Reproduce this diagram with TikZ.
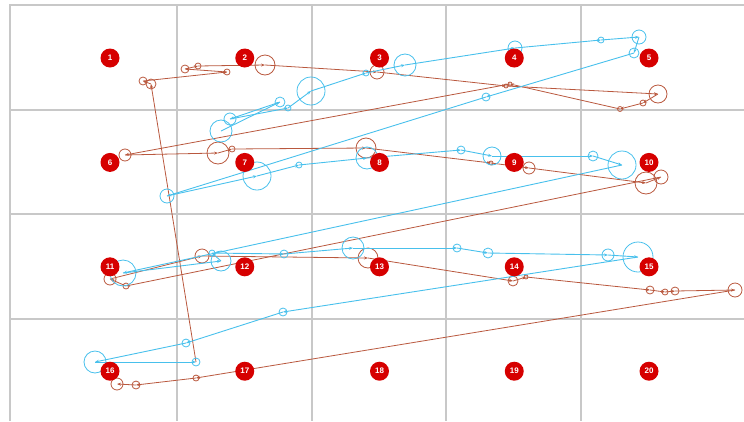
\documentclass[tikz,border=0pt]{standalone}
\usepackage{fontspec}
\newfontfamily\badgefont{Liberation Sans}
\usetikzlibrary{arrows.meta}
\definecolor{gridgray}{RGB}{200,200,200}
\definecolor{badgered}{RGB}{214,0,0}
\definecolor{rustline}{RGB}{185,88,62}
\definecolor{skyline}{RGB}{72,192,236}

\begin{document}
\begin{tikzpicture}[x=1pt,y=-1pt,>={Stealth[length=4pt,width=3pt]},
  badge/.style={circle,fill=badgered,text=white,minimum size=19pt,inner sep=0pt,
    font=\badgefont\bfseries\fontsize{8}{8}\selectfont},
  bfix/.style={circle,draw=rustline,line width=0.8pt,inner sep=0pt},
  cfix/.style={circle,draw=skyline,line width=0.8pt,inner sep=0pt},
  bsac/.style={rustline,line width=0.8pt,->},
  csac/.style={skyline,line width=0.9pt,->}]
\useasboundingbox (0,0) rectangle (744,421);
\draw[gridgray,line width=1.4pt] (10,421) -- (10,5) -- (744,5);
\foreach \gx in {177,312,446,581} \draw[gridgray,line width=1.4pt] (\gx,5) -- (\gx,421);
\foreach \gy in {110,214,319} \draw[gridgray,line width=1.4pt] (10,\gy) -- (744,\gy);

\coordinate (b0) at (196,362);
\foreach \n/\x/\y/\r in {1/151/84/5,2/143/81/4,3/227/72/3,4/185/69/4,5/198/66/3,
    6/265/65/10,7/377/72/7,8/506/86/2,9/658/94/9,10/643/103/3,11/620/109/2.5,
    12/510/84/2,13/125/155/6,14/218/153/11,15/232/149/3,16/366/148/10,
    17/491/163/2,18/529/168/6,19/646/183/11,20/661/177/7,21/126/286/3,
    22/110/279/6,23/202/256/7,24/368/258/10,25/513/281/5,26/526/277/2,
    27/650/290/4,28/665/292/3,29/675/291/4,30/735/290/7,31/196/378/3,
    32/136/385/4,33/117/384/6}
  \node[bfix,minimum size=2*\r*1pt] (b\n) at (\x,\y) {};
\foreach \a [count=\b] in {0,...,32}
  \draw[bsac] (b\a.center) -- (b\b.center);

\foreach \n/\x/\y/\r in {0/221/131/11,1/280/102/5,2/230/119/6,3/288/108/3,
    4/311/91/14,5/366/73/3,6/405/65/11,7/515/48/7,8/601/40/3,9/639/37/7,
    10/634/53/5,11/486/97/4,12/167/196/7,13/257/176/14,14/299/165/3,
    15/367/158/11,16/461/150/4,17/492/156/9,18/593/156/5,19/622/165/14,
    20/123/273/13,21/221/261/10,22/212/253/3,23/284/254/4,24/353/248/11,
    25/457/248/4,26/488/253/5,27/608/255/6,28/638/257/15,29/283/312/4,
    30/186/343/4,31/95/362/11,32/196/362/4}
  \node[cfix,minimum size=2*\r*1pt] (c\n) at (\x,\y) {};
\foreach \a [count=\b] in {0,...,31}
  \draw[csac] (c\a.center) -- (c\b.center);

\foreach \i in {1,...,20} {
  \pgfmathsetmacro\bx{110+134.75*mod(\i-1,5)}
  \pgfmathsetmacro\by{58+104.4*int((\i-1)/5)}
  \node[badge] (a\i) at (\bx,\by) {\i};
}
\end{tikzpicture}
\end{document}
